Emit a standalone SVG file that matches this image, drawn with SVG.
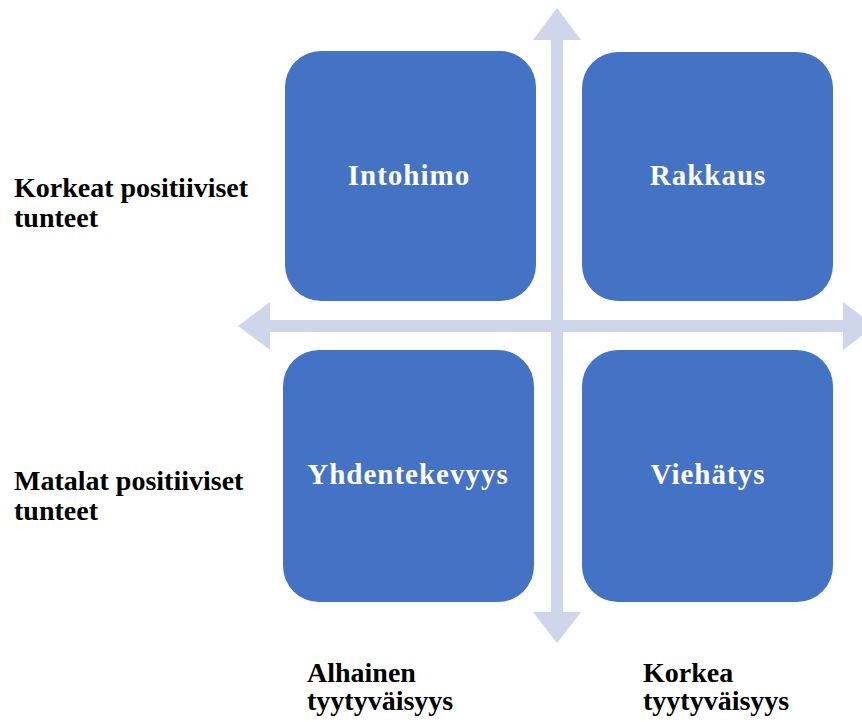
<svg xmlns="http://www.w3.org/2000/svg" width="862" height="722" viewBox="0 0 862 722">
  <style>
    .axis { fill: #cfd5ea; }
    .box { fill: #4472c4; }
    .boxlabel { font-family: "Liberation Serif", "Times New Roman", serif; font-weight: bold; font-size: 29px; letter-spacing: 1px; fill: #ffffff; text-anchor: middle; }
    .axislabel { font-family: "Liberation Serif", "Times New Roman", serif; font-weight: bold; font-size: 28px; fill: #000000; }
  </style>
  <rect width="862" height="722" fill="#ffffff"/>

  <!-- Axes: double-headed block arrows -->
  <g id="connectors">
    <polygon class="axis" points="557,8 581,40 563,40 563,612 581,612 557,643 533,612 551,612 551,40 533,40"/>
    <polygon class="axis" points="238,326 270,302 270,320 843,320 843,302 875,326 843,350 843,332 270,332 270,350"/>
  </g>

  <g id="intohimo">
    <rect class="box" x="285" y="51" width="251" height="250" rx="36" ry="36"/>
    <text class="boxlabel" x="409" y="185">Intohimo</text>
  </g>
  <g id="rakkaus">
    <rect class="box" x="582" y="52" width="251" height="249" rx="36" ry="36"/>
    <text class="boxlabel" x="708" y="185">Rakkaus</text>
  </g>
  <g id="yhdentekevyys">
    <rect class="box" x="283" y="350" width="251" height="252" rx="36" ry="36"/>
    <text class="boxlabel" x="408" y="484">Yhdentekevyys</text>
  </g>
  <g id="viehatys">
    <rect class="box" x="582" y="350" width="251" height="252" rx="36" ry="36"/>
    <text class="boxlabel" x="708" y="484">Viehätys</text>
  </g>

  <g id="label-high-feelings">
    <text class="axislabel" x="14" y="197">Korkeat positiiviset</text>
    <text class="axislabel" x="14" y="227">tunteet</text>
  </g>
  <g id="label-low-feelings">
    <text class="axislabel" x="14" y="490">Matalat positiiviset</text>
    <text class="axislabel" x="14" y="520">tunteet</text>
  </g>
  <g id="label-low-satisfaction">
    <text class="axislabel" x="307" y="682">Alhainen</text>
    <text class="axislabel" x="307" y="710">tyytyväisyys</text>
  </g>
  <g id="label-high-satisfaction">
    <text class="axislabel" x="643" y="682">Korkea</text>
    <text class="axislabel" x="643" y="710">tyytyväisyys</text>
  </g>
</svg>
